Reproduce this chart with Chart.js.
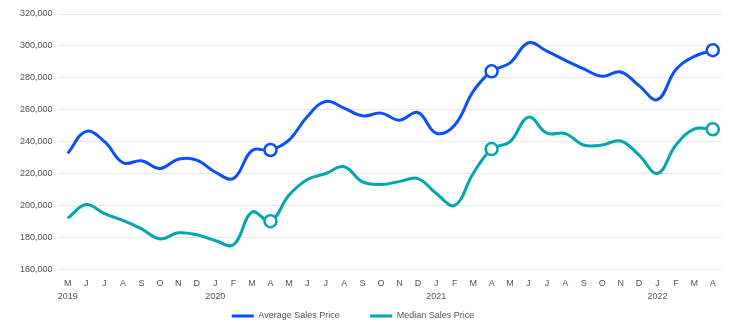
<!DOCTYPE html>
<html>
<head>
<meta charset="utf-8">
<script src="https://cdn.jsdelivr.net/npm/chart.js@4/dist/chart.umd.min.js"></script>
<style>
  html, body { margin: 0; padding: 0; background: #fff; }
  #wrap { width: 740px; height: 326px; }
</style>
</head>
<body>
<div id="wrap"><canvas id="priceChart"></canvas></div>
<script>
var months = ["M","J","J","A","S","O","N","D",
  "J","F","M","A","M","J","J","A","S","O","N","D",
  "J","F","M","A","M","J","J","A","S","O","N","D",
  "J","F","M","A"];
var yearLabels = { 0: "2019", 8: "2020", 20: "2021", 32: "2022" };

var averagePrice = [232.7, 246.5, 240, 226.8, 228, 223.2, 229, 228.5, 221, 217,
  234.5, 234.8, 241, 255.8, 265.2, 261, 256.2, 257.9, 253.5, 258.3,
  245.3, 250.5, 271.5, 284.1, 289.4, 302, 296.7, 291, 285.6, 281,
  283.7, 275.1, 266.3, 285.2, 293.5, 297.3].map(function (v) { return v * 1000; });

var medianPrice = [192.1, 200.6, 194.9, 190.7, 185.4, 179.1, 182.9, 181.7, 178.1, 175.5,
  195.9, 190.2, 206.4, 216.3, 220.1, 224.3, 214.8, 213.2, 215, 216.9,
  207.5, 200.1, 220.1, 235.4, 240, 255.4, 245.3, 245.1, 237.9, 237.9,
  240.4, 231.6, 220.1, 237.9, 248, 247.8].map(function (v) { return v * 1000; });

var markedPoints = [11, 23, 35];

var labels = months.map(function (m, i) {
  return yearLabels[i] ? [m, yearLabels[i]] : m;
});
var radii = months.map(function (m, i) {
  return markedPoints.indexOf(i) >= 0 ? 6 : 0;
});

var FONT = "Arial, 'Liberation Sans', sans-serif";
var LEGEND_PAD = 8;
var legendGaps = ["         ", "            "];

// keep the legend short so the plot can reach down like the original
var legendHeight = {
  id: "legendHeight",
  beforeInit: function (chart) {
    var fit = chart.legend.fit;
    chart.legend.fit = function () {
      fit.call(this);
      this.height = LEGEND_PAD + 14.5;
    };
  },
};

var ctx = document.getElementById("priceChart").getContext("2d");
var priceChart = new Chart(ctx, {
  type: "line",
  data: {
    labels: labels,
    datasets: [
      {
        label: "Average Sales Price",
        data: averagePrice,
        borderColor: "#0a4fff",
        backgroundColor: "#0a4fff",
        borderWidth: 3,
        tension: 0.4,
        pointRadius: radii,
        pointBackgroundColor: "#ffffff",
        pointBorderColor: "#0a4fff",
        pointBorderWidth: 2.5,
      },
      {
        label: "Median Sales Price",
        data: medianPrice,
        borderColor: "#00a6ad",
        backgroundColor: "#00a6ad",
        borderWidth: 3,
        tension: 0.4,
        pointRadius: radii,
        pointBackgroundColor: "#ffffff",
        pointBorderColor: "#00a6ad",
        pointBorderWidth: 2.5,
      },
    ],
  },
  plugins: [legendHeight],
  options: {
    responsive: true,
    maintainAspectRatio: false,
    animation: false,
    layout: { padding: { top: 14, right: 18, left: 14, bottom: 0 } },
    plugins: {
      tooltip: { enabled: false },
      legend: {
        position: "bottom",
        labels: {
          boxWidth: 22,
          boxHeight: 3,
          padding: LEGEND_PAD,
          color: "#555",
          font: { family: FONT, size: 9 },
          generateLabels: function (chart) {
            var items = Chart.defaults.plugins.legend.labels.generateLabels(chart);
            items.forEach(function (it, i) {
              it.text = it.text + legendGaps[i];
              it.lineWidth = 0;
            });
            return items;
          },
        },
      },
    },
    scales: {
      x: {
        offset: true,
        grid: { display: false },
        border: { display: false },
        ticks: {
          autoSkip: false,
          maxRotation: 0,
          color: "#555",
          padding: 0,
          font: { family: FONT, size: 9, lineHeight: 1.45 },
        },
      },
      y: {
        min: 160000,
        max: 320000,
        grid: { color: "#e8e8e8", drawTicks: false },
        border: { display: false },
        ticks: {
          stepSize: 20000,
          color: "#555",
          padding: 6,
          font: { family: FONT, size: 9 },
        },
      },
    },
  },
});
</script>
</body>
</html>
